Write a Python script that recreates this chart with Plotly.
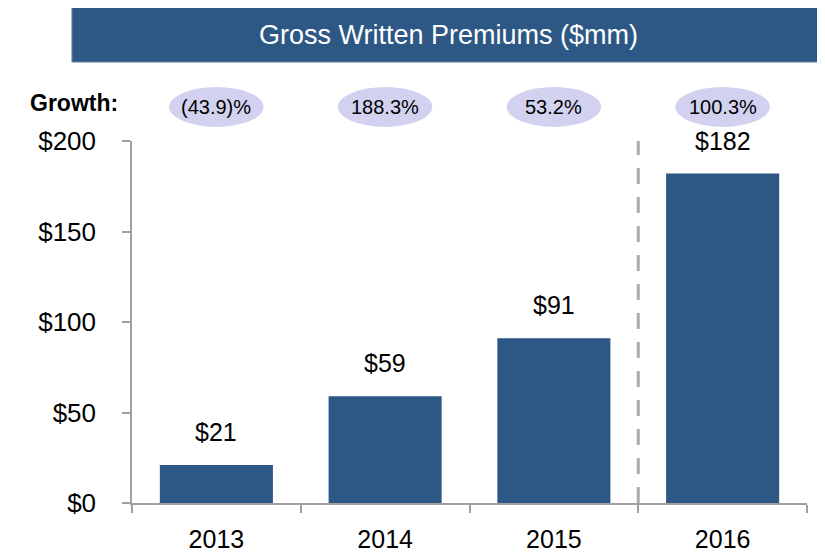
import plotly.graph_objects as go

years = ["2013", "2014", "2015", "2016"]
premiums = [21, 59, 91, 182]
value_labels = ["$21", "$59", "$91", "$182"]
growth_labels = ["(43.9)%", "188.3%", "53.2%", "100.3%"]
y_ticks = [0, 50, 100, 150, 200]
y_tick_labels = ["$0", "$50", "$100", "$150", "$200"]
title_text = "Gross Written Premiums ($mm)"

BAR = "#2D5784"
FONT = "Liberation Sans, Arial, sans-serif"

fig = go.Figure()
fig.add_trace(go.Bar(x=years, y=premiums, marker_color=BAR, marker_line_width=0,
                     hoverinfo="skip"))

shapes = []
annotations = []

# title bar
shapes.append(dict(type="rect", xref="paper", yref="paper", x0=-0.089, x1=1.06,
                   y0=1.218, y1=1.370, fillcolor=BAR, line=dict(color="#6F8CA8", width=1),
                   layer="below"))
annotations.append(dict(xref="paper", yref="paper", x=0.469, y=1.294, text=title_text,
                        showarrow=False, xanchor="center", yanchor="middle",
                        font=dict(color="white", size=27, family=FONT)))

# growth label
annotations.append(dict(xref="paper", yref="paper", x=-0.086, y=1.105, text="<b>Growth:</b>",
                        showarrow=False, xanchor="center", yanchor="middle",
                        font=dict(color="black", size=23, family=FONT)))

for i, (v, vl, gl) in enumerate(zip(premiums, value_labels, growth_labels)):
    shapes.append(dict(type="circle", xref="x", yref="paper", x0=i - 0.28, x1=i + 0.28,
                       y0=1.039, y1=1.149, fillcolor="#D2D2F0", line=dict(width=0)))
    annotations.append(dict(xref="x", yref="paper", x=i, y=1.094, text=gl, showarrow=False,
                            xanchor="center", yanchor="middle",
                            font=dict(color="black", size=20, family=FONT)))
    annotations.append(dict(xref="x", yref="y", x=i, y=v, text=vl, showarrow=False,
                            xanchor="center", yanchor="bottom", yshift=17,
                            font=dict(color="black", size=25, family=FONT)))

# dashed divider
shapes.append(dict(type="line", xref="x", yref="y", x0=2.5, x1=2.5, y0=0, y1=200,
                   line=dict(color="#ABABAB", width=3, dash="16px,13px")))

fig.update_layout(
    width=825, height=554,
    margin=dict(l=124, r=26, t=133, b=59),
    paper_bgcolor="white", plot_bgcolor="white",
    showlegend=False, bargap=0.33,
    shapes=shapes, annotations=annotations,
    font=dict(family=FONT, color="black"),
    xaxis=dict(type="category", range=[-0.5, 3.5], autorange=False, automargin=False,
               tickson="boundaries", ticks="outside", ticklen=8, tickangle=0,
               tickcolor="#A0A0A0", tickwidth=1.5, showline=True, linecolor="#A0A0A0",
               linewidth=1.5, showgrid=False, tickfont=dict(size=25, family=FONT),
               ticklabelstandoff=13),
    yaxis=dict(range=[0, 200], autorange=False, automargin=False, tickvals=y_ticks,
               ticktext=y_tick_labels, ticks="outside",
               ticklen=8, tickcolor="#A0A0A0", tickwidth=1.5, showline=True,
               linecolor="#A0A0A0", linewidth=1.5, showgrid=False, zeroline=False,
               tickfont=dict(size=26, family=FONT), ticklabelstandoff=21),
)

fig.write_html("out.html")
